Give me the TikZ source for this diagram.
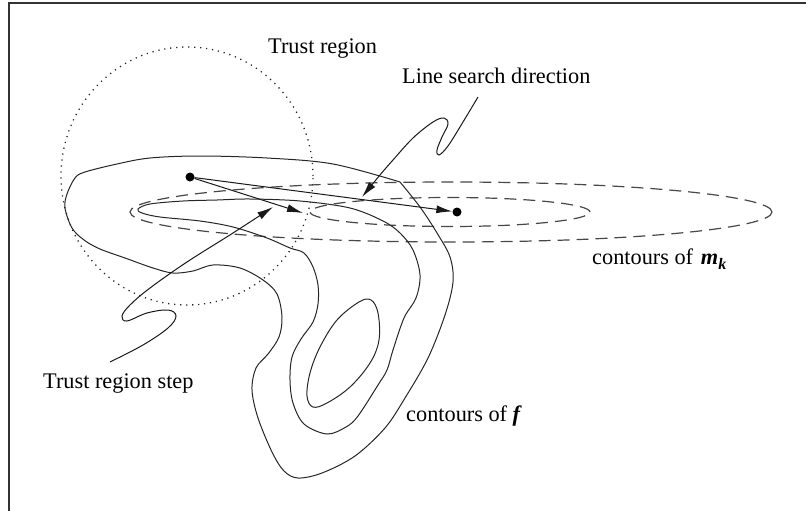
\documentclass[tikz,border=0pt]{standalone}
\usepackage{fontspec}
\setmainfont{Liberation Serif}
\usetikzlibrary{arrows.meta}
\begin{document}
\begin{tikzpicture}[x=1pt,y=-1pt,
  lbl/.style={font=\fontsize{22.3}{26}\selectfont, inner sep=0pt, anchor=base west},
  fcont/.style={draw=black!85, line width=1pt},
  mcont/.style={draw=black!72, line width=1.2pt, dash pattern=on 12pt off 7pt},
  trcirc/.style={draw=black!85, line width=1.3pt, dash pattern=on 1.2pt off 4.8pt},
  dotnode/.style={circle, fill=black, inner sep=0pt, minimum size=9pt},
  arr/.style={-{Latex[length=16pt,width=8pt]}, line width=1pt, draw=black!90},
  frameline/.style={line width=2pt, draw=black!80}]
\useasboundingbox (0,0) rectangle (806,511);
% frame
\draw[frameline] (9,511) -- (9,3) -- (806,3);

% trust region circle
\draw[trcirc] (187,176) ellipse [x radius=126pt, y radius=129pt];

% contours of m_k
\draw[mcont] (451,212) ellipse [x radius=321pt, y radius=30pt];
\draw[mcont] (450,212) ellipse [x radius=140pt, y radius=14.5pt];

% contours of f
\draw[fcont] plot[smooth, tension=0.55] coordinates {
 (400,182) (420,207) (437,233) (450,257) (453,282) (445,315) (428,358) (405,398)
 (385,428) (355,456) (322,473) (298,478) (284,471) (272,452) (258,418) (252,390)
 (256,368) (268,354) (279,337) (282,317) (277,294) (263,280) (240,268) (213,265)
 (193,271) (173,273) (153,268) (125,258) (100,249) (84,240) (72,228) (65,208)
 (67,194) (75,178) (85,172) (117,164) (150,158) (200,156) (267,158) (333,164) (400,182)};
\draw[fcont] plot[smooth cycle, tension=0.55] coordinates {
 (138,209) (150,204) (183,201) (217,200) (250,199) (300,201) (350,208) (383,221)
 (400,233) (413,250) (420,275) (416,298) (404,318) (393,350) (387,370) (378,385)
 (358,416) (346,427) (327,434) (304,424) (293,403) (290,380) (292,357) (301,339)
 (313,322) (318,304) (318,285) (313,267) (304,253) (290,248) (267,238) (233,227)
 (200,221) (160,217) (142,213)};
\draw[fcont] plot[smooth cycle, tension=0.6] coordinates {
 (359,302) (371,300) (378,313) (379,340) (370,363) (350,387) (327,403) (313,407)
 (307,396) (310,373) (320,347) (337,320)};

% points and steps
\node[dotnode] (x0) at (190,177) {};
\node[dotnode] (x1) at (457,212) {};
\coordinate (stepend) at (303,213);
\draw[arr] (x0) -- (x1);
\draw[arr] (x0) -- (stepend);

% labels
\node[lbl] (trl) at (268,54) {Trust region};
\node[lbl] (lsd) at (402,84) {Line search direction};
\node[lbl] (trs) at (43,388) {Trust region step};
\node[lbl] (cf) at (406,421) {contours of \textbf{\textit{f}}};
\node[lbl] (cm) at (592,264) {contours of\hspace{0.35em}\textbf{\textit{m}}\raisebox{-5pt}{\fontsize{16}{16}\selectfont\textbf{\textit{k}}}};

% pointers
\coordinate (lsdstart) at (478,97);
\coordinate (lsdtip) at (362,197);
\draw[arr] plot[smooth, tension=0.6] coordinates {
 (lsdstart) (463,122) (448,146) (439,155) (437,150) (442,137) (448,124) (444,118)
 (433,122) (413,138) (393,160) (380,175) (lsdtip)};
\coordinate (trsstart) at (110,362);
\coordinate (trstip) at (273,207);
\draw[arr] plot[smooth, tension=0.6] coordinates {
 (trsstart) (143,345) (168,328) (176,316) (168,310) (147,313) (127,321) (122,316)
 (130,305) (150,288) (187,262) (233,233) (trstip)};
\end{tikzpicture}
\end{document}
